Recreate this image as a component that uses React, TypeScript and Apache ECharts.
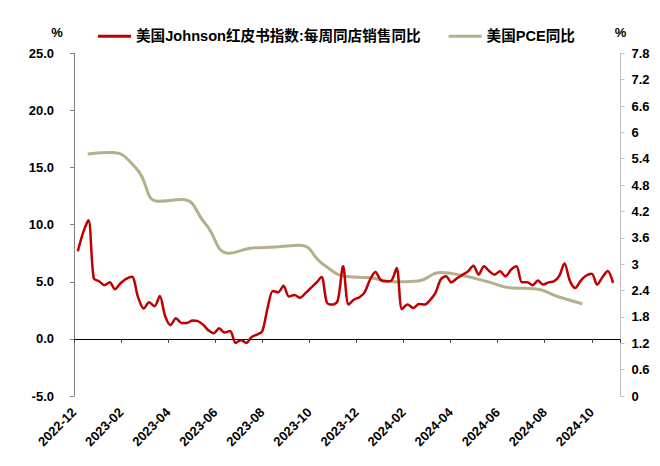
import { useEffect, useRef } from "react";
import * as echarts from "echarts";

// ---- data ----
const xTickLabels = [
  "2022-12", "2023-02", "2023-04", "2023-06", "2023-08", "2023-10",
  "2023-12", "2024-02", "2024-04", "2024-06", "2024-08", "2024-10",
];

const redStartDate = "2022-12-06"; // weekly observations
const redValues = [
  7.66, 9.3, 10.38, 5.3, 5.05, 4.7, 4.95, 4.35, 4.85, 5.25,
  5.45, 3.7, 2.65, 3.2, 2.85, 3.75, 2.0, 1.2, 1.8, 1.4,
  1.4, 1.6, 1.55, 1.25, 0.75, 0.5, 0.93, 0.55, 0.7, -0.35,
  -0.12, -0.35, 0.17, 0.38, 0.67, 2.7, 4.2, 4.08, 4.66, 3.7,
  3.85, 3.6, 4.0, 4.46, 4.9, 5.42, 3.2, 3.0, 3.3, 6.35,
  3.0, 3.45, 3.65, 4.1, 5.2, 5.85, 5.15, 5.04, 5.1, 6.21,
  2.6, 3.0, 2.71, 3.05, 3.0, 3.4, 4.0, 5.2, 5.48, 4.95,
  5.3, 5.6, 5.9, 6.41, 5.62, 6.35, 5.92, 5.62, 5.92, 5.48,
  6.05, 6.35, 4.95, 4.95, 4.7, 5.1, 4.75, 4.95, 5.04, 5.5,
  6.6, 5.1, 4.45, 5.1, 5.55, 5.7, 4.75, 5.4, 5.95, 4.9,
];

const pceMonths = [
  "2022-12", "2023-01", "2023-02", "2023-03", "2023-04", "2023-05",
  "2023-06", "2023-07", "2023-08", "2023-09", "2023-10", "2023-11",
  "2023-12", "2024-01", "2024-02", "2024-03", "2024-04", "2024-05",
  "2024-06", "2024-07", "2024-08", "2024-09",
];
const pceValues = [
  5.51, 5.54, 5.18, 4.43, 4.47, 3.92, 3.25, 3.37, 3.39, 3.43, 3.0,
  2.72, 2.69, 2.6, 2.62, 2.81, 2.73, 2.6, 2.46, 2.44, 2.26, 2.1,
];

const redName = "美国Johnson红皮书指数:每周同店销售同比";
const pceName = "美国PCE同比";

// ---- helpers: date -> months since 2022-12-01 ----
const BASE_YEAR = 2022;
const BASE_MONTH = 12;
function monthPos(y: number, m: number, d: number) {
  const dim = new Date(Date.UTC(y, m, 0)).getUTCDate();
  return (y - BASE_YEAR) * 12 + (m - BASE_MONTH) + (d - 1) / dim;
}
function weeklyDates(start: string, n: number) {
  const [y, m, d] = start.split("-").map(Number);
  const t0 = Date.UTC(y, m - 1, d);
  const out: Date[] = [];
  for (let i = 0; i < n; i++) out.push(new Date(t0 + i * 7 * 86400000));
  return out;
}

const redData = weeklyDates(redStartDate, redValues.length).map((dt, i) => [
  monthPos(dt.getUTCFullYear(), dt.getUTCMonth() + 1, dt.getUTCDate()),
  redValues[i],
]);
const pceData = pceMonths.map((s, i) => {
  const [y, m] = s.split("-").map(Number);
  return [monthPos(y, m, 19), pceValues[i]];
});

const X_MAX = 23.22;
const numFont = "'Liberation Sans', Arial, 'Noto Sans CJK SC', sans-serif";
const cjkFont = "'Liberation Sans', Arial, 'Noto Sans CJK SC', sans-serif";

export default function App() {
  const ref = useRef<HTMLDivElement>(null);
  useEffect(() => {
    const chart = echarts.init(ref.current!, null, { renderer: "svg" });
    const option: any = {
      animation: false,
      backgroundColor: "#ffffff",
      legend: {
        data: [redName, pceName],
        left: 98,
        top: 29,
        padding: 0,
        icon: "rect",
        itemWidth: 33,
        itemHeight: 3,
        itemGap: 28,
        textStyle: { fontSize: 14.6, fontWeight: "bold", color: "#000", fontFamily: cjkFont },
      },
      grid: { left: 74, right: 39.5, top: 53.3, bottom: 70, containLabel: false },
      xAxis: [
        {
          type: "value",
          min: 0,
          max: X_MAX,
          interval: 2,
          axisLine: { show: true, onZero: true, lineStyle: { color: "#000", width: 1 } },
          axisTick: { show: true, inside: false, length: 4, lineStyle: { color: "#404040" } },
          axisLabel: { show: false },
          splitLine: { show: false },
        },
        {
          type: "value",
          min: 0,
          max: X_MAX,
          interval: 2,
          position: "bottom",
          axisLine: { show: false, onZero: false },
          axisTick: { show: false },
          splitLine: { show: false },
          axisLabel: {
            show: true,
            rotate: 45,
            margin: 14,
            fontSize: 13,
            fontWeight: "bold",
            color: "#000",
            fontFamily: numFont,
            showMaxLabel: false,
            formatter: (v: number) => {
              const r = Math.round(v);
              if (Math.abs(v - r) > 1e-6 || r % 2 !== 0) return "";
              return xTickLabels[r / 2] ?? "";
            },
          },
        },
      ],
      yAxis: [
        {
          type: "value",
          position: "left",
          min: -5,
          max: 25,
          interval: 5,
          name: "%",
          nameLocation: "end",
          nameGap: 14,
          nameTextStyle: {
            fontSize: 13, fontWeight: "bold", color: "#000", fontFamily: numFont,
            align: "center", padding: [0, 34, 0, 0],
          },
          axisLine: { show: true, onZero: false, lineStyle: { color: "#808080" } },
          axisTick: { show: true, inside: false, length: 4, lineStyle: { color: "#808080" } },
          splitLine: { show: false },
          axisLabel: {
            margin: 20,
            fontSize: 13,
            fontWeight: "bold",
            color: "#000",
            fontFamily: numFont,
            formatter: (v: number) => v.toFixed(1),
          },
        },
        {
          type: "value",
          position: "right",
          min: 0,
          max: 7.8,
          interval: 0.6,
          name: "%",
          nameLocation: "end",
          nameGap: 14,
          nameTextStyle: {
            fontSize: 13, fontWeight: "bold", color: "#000", fontFamily: numFont,
          },
          axisLine: { show: true, onZero: false, lineStyle: { color: "#c0c0c0" } },
          axisTick: { show: true, inside: false, length: 4, lineStyle: { color: "#c0c0c0" } },
          splitLine: { show: false },
          axisLabel: {
            margin: 11,
            fontSize: 13,
            fontWeight: "bold",
            color: "#000",
            fontFamily: numFont,
          },
        },
      ],
      series: [
        {
          name: redName,
          type: "line",
          xAxisIndex: 0,
          yAxisIndex: 0,
          data: redData,
          smooth: 0.3,
          showSymbol: false,
          color: "#C00000",
          lineStyle: { color: "#C00000", width: 2.5 },
          z: 3,
        },
        {
          name: pceName,
          type: "line",
          xAxisIndex: 0,
          yAxisIndex: 1,
          data: pceData,
          smooth: 0.5,
          showSymbol: false,
          color: "#B4B08C",
          lineStyle: { color: "#B4B08C", width: 3 },
          z: 2,
        },
      ],
    };
    chart.setOption(option);
    return () => chart.dispose();
  }, []);
  return (
    <div
      ref={ref}
      style={{ position: "fixed", left: 0, top: 0, width: 660, height: 466, background: "#fff" }}
    />
  );
}
